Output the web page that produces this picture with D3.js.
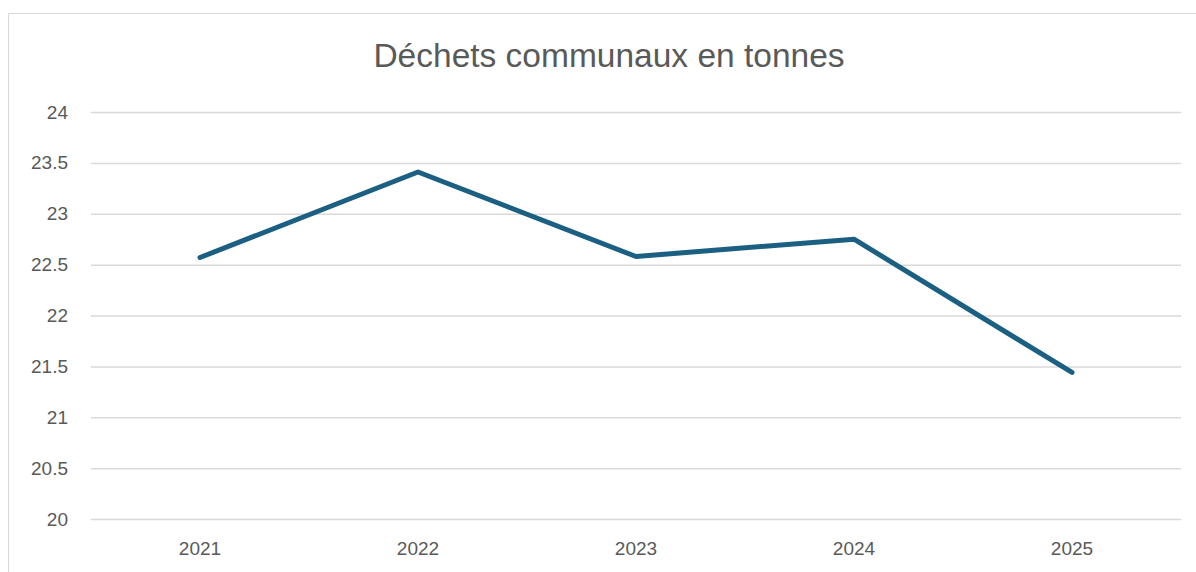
<!DOCTYPE html>
<html>
<head>
<meta charset="utf-8">
<script src="https://cdn.jsdelivr.net/npm/d3@7"></script>
<style>
  body { margin: 0; background: #fff; }
  svg { display: block; font-family: "Liberation Sans", Arial, sans-serif; }
</style>
</head>
<body>
<svg id="chart" width="1196" height="572"></svg>
<script>
const years = ['2021', '2022', '2023', '2024', '2025'];
const tonnes = [22.57, 23.41, 22.58, 22.75, 21.44];
const yTicks = [20, 20.5, 21, 21.5, 22, 22.5, 23, 23.5, 24];
const title = 'Déchets communaux en tonnes';

const svg = d3.select('#chart');
const margin = { top: 112, right: 15, bottom: 53, left: 91 };
const width = 1196 - margin.left - margin.right;
const height = 572 - margin.top - margin.bottom;

// cadre
svg.append('rect')
  .attr('x', 8.5).attr('y', 13.5)
  .attr('width', 1250).attr('height', 600)
  .attr('fill', 'none')
  .attr('stroke', '#d9d9d9')
  .attr('stroke-width', 1);

const g = svg.append('g')
  .attr('transform', `translate(${margin.left},${margin.top})`);

const x = d3.scaleBand().domain(years).range([0, width]);
const y = d3.scaleLinear().domain([20, 24]).range([height, 0]);

// grille + axe Y
const yAxis = g.append('g')
  .call(d3.axisLeft(y).tickValues(yTicks).tickSize(-width).tickPadding(23).tickFormat(d3.format('')));
yAxis.select('.domain').remove();
yAxis.selectAll('line').attr('stroke', '#d9d9d9').attr('stroke-width', 1.5);
yAxis.selectAll('text').attr('fill', '#595959').style('font-size', '19px');

// axe X
const xAxis = g.append('g')
  .attr('transform', `translate(0,${height})`)
  .call(d3.axisBottom(x).tickSize(0).tickPadding(23));
xAxis.select('.domain').remove();
xAxis.selectAll('text').attr('fill', '#595959').style('font-size', '19px');

// titre
svg.append('text')
  .attr('x', 609)
  .attr('y', 67)
  .attr('text-anchor', 'middle')
  .attr('fill', '#595959')
  .style('font-size', '33.5px')
  .text(title);

// ligne
const line = d3.line()
  .x((d, i) => x(years[i]) + x.bandwidth() / 2)
  .y((d) => y(d));

g.append('path')
  .datum(tonnes)
  .attr('fill', 'none')
  .attr('stroke', '#1b5f82')
  .attr('stroke-width', 5)
  .attr('stroke-linecap', 'round')
  .attr('stroke-linejoin', 'round')
  .attr('d', line);
</script>
</body>
</html>
